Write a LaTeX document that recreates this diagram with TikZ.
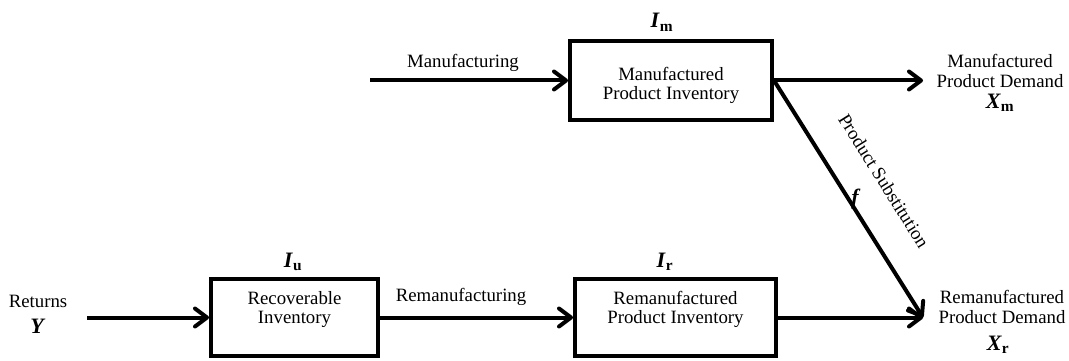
\documentclass[tikz,border=0pt]{standalone}
\usepackage{fontspec}
\setmainfont{Liberation Serif}
\usetikzlibrary{arrows.meta}
\newcommand{\bisym}[2]{{\fontsize{22}{24}\selectfont\textbf{\textit{#1}}\textsubscript{\textbf{#2}}}}
\newcommand{\bione}[1]{{\fontsize{22}{24}\selectfont\textbf{\textit{#1}}}}
\begin{document}
\begin{tikzpicture}[x=1pt,y=-1pt,
  font=\fontsize{18.8}{19.5}\selectfont,
  box/.style={draw, line width=4pt, rectangle, inner sep=0pt},
  flow/.style={line width=4pt, -{Straight Barb[length=12pt,width=18pt,round]}},
  lbl/.style={inner sep=0pt, anchor=base},
  mlbl/.style={inner sep=0pt, align=center}]
\useasboundingbox (0,0) rectangle (1069,361);
% boxes
\node[box, minimum width=202pt, minimum height=79pt] (mbox) at (671,80.5) {};
\node[box, minimum width=167pt, minimum height=77pt] (ubox) at (294.5,317.5) {};
\node[box, minimum width=201pt, minimum height=77pt] (rbox) at (675.5,317.5) {};
% box texts
\node[mlbl] (mtext) at (671,85.6) {Manufactured\\Product Inventory};
\node[mlbl] (utext) at (294.5,309.6) {Recoverable\\Inventory};
\node[mlbl] (rtext) at (675.5,309.6) {Remanufactured\\Product Inventory};
% inventory labels
\node[lbl] (im) at (662,28) {\bisym{I}{m}};
\node[lbl] (iu) at (293,267) {\bisym{I}{u}};
\node[lbl] (ir) at (665,267) {\bisym{I}{r}};
% flow labels
\node[lbl] (manu) at (463,67) {Manufacturing};
\node[lbl] (reman) at (461,301) {Remanufacturing};
\node[lbl] (ret) at (38,307) {Returns};
\node[lbl] (yv) at (38,333) {\bione{Y}};
\node[mlbl] (mdem) at (1000,71) {Manufactured\\Product Demand};
\node[lbl] (xm) at (1000,108) {\bisym{X}{m}};
\node[mlbl] (rdem) at (1002,307) {Remanufactured\\Product Demand};
\node[lbl] (xr) at (998,350) {\bisym{X}{r}};
\node[rotate=-58, inner sep=0pt] (ps) at (884,181) {Product Substitution};
\node[inner sep=0pt] (fv) at (856,199) {\bione{f}};
% free ends
\coordinate (mstart) at (370,80.5);
\coordinate (mend) at (923,80.5);
\coordinate (ustart) at (87,317.5);
\coordinate (rend) at (923,317.5);
% connectors
\draw[flow] (mstart) -- (mbox.west);
\draw[flow] (mbox.east) -- (mend);
\draw[flow] (mbox.east) -- (rend);
\draw[flow] (ustart) -- (ubox.west);
\draw[flow] (ubox.east) -- (rbox.west);
\draw[flow] (rbox.east) -- (rend);
\end{tikzpicture}
\end{document}
